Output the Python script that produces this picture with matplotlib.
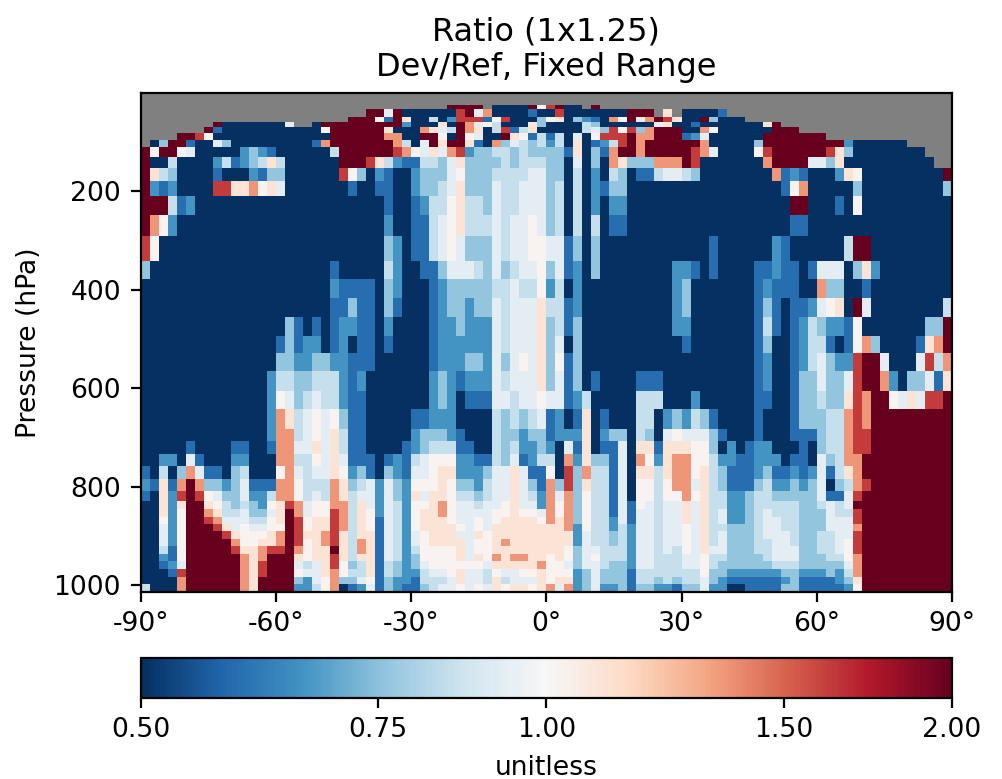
import numpy as np
import matplotlib
matplotlib.use('Agg')
import matplotlib.pyplot as plt
from matplotlib.colors import LogNorm

plt.rcParams['font.size'] = 9.6

# ratio classes, one per character in the rows below
ratio_classes = {'.': np.nan, '0': 0.50, '1': 0.59, '2': 0.66, '3': 0.76, '4': 0.85, '5': 0.93,
                 '6': 1.02, '7': 1.10, '8': 1.36, '9': 1.62, 'X': 2.00}

# layer edges in hPa, top of the plot first
pressure_edges = [24, 34, 50, 60, 70, 81, 95, 111, 131, 153, 180, 210, 249, 291, 342, 378, 417, 455,
                  494, 528, 566, 605, 643, 682, 708, 734, 759, 785, 809, 830, 846, 861, 876, 891,
                  906, 921, 937, 952, 967, 983, 998, 1013]
lat_edges = list(range(-90, 91, 2))

# 90S to 30S, 2 degree columns, one string per layer
south_rows = [
    "..... ..... ..... ..... ..... .....",
    "..... ..... ..... ..... ..... XX5X0",
    "..... ..... ..... ..... ...XX X61X7",
    "..... ...X0 00000 05..0 XXXXX XXXX2",
    "..... ..X10 00000 00000 6XXXX XX700",
    "....X X9600 00000 00000 0XXXX XX880",
    ".03XX 10053 00000 00001 8XXXX XXX84",
    "X6XX6 50000 02321 00000 04XXX XXX98",
    "X0040 00024 12347 40000 00XXX 97421",
    "X7430 00010 00213 30000 00963 02100",
    "X2120 00099 77867 50000 00010 01100",
    "XXX41 20000 00000 00000 00000 00100",
    "X8620 00000 00000 00000 00000 00200",
    "96000 00000 00000 00000 00000 00320",
    "30000 00000 00000 00000 01000 00420",
    "00000 00000 00000 00000 02111 10320",
    "00000 00000 00000 00000 01131 10310",
    "00000 00000 00000 03101 01221 10200",
    "00000 00000 00000 13122 01201 10100",
    "00000 00000 00000 33223 32211 10000",
    "00000 00000 00002 44334 44212 00000",
    "00000 00000 00002 65345 44211 00000",
    "00000 00000 00002 87456 56311 00000",
    "00000 00000 00002 88456 57411 00000",
    "00000 10000 11001 88557 57411 00001",
    "00220 51000 22000 88446 57511 10121",
    "10403 85110 34000 68545 57623 10321",
    "21718 X8332 35111 88644 48734 52532",
    "10729 X9653 35224 88645 48745 52532",
    "00727 XX764 34326 79856 68847 52542",
    "00726 XX874 45335 7X856 69847 62542",
    "00626 XX985 55446 7X967 79847 61542",
    "00526 XXX97 56556 6X967 79847 61542",
    "00526 XXXX9 76667 8X977 89747 71542",
    "00526 XXXXX 86677 8X967 89748 71542",
    "00416 XXXXX 97789 9X867 7X748 71542",
    "00216 XXXXX X878X XX767 79747 71542",
    "00125 XXXXX X879X XX545 79634 71432",
    "00019 XXXXX X879X XX655 78644 71432",
    "00008 XXXXX X87XX XX325 68335 61322",
    "40008 XXXXX X87XX XX224 68012 51321",
]

# 30S to 30N
tropic_rows = [
    "....X XXX.0 000X6 9X00. X.... .....",
    "00000 9X580 00010 09000 0000X XX.7.",
    "00402 99916 90003 67032 1086X 58X97",
    "00070 X8564 00073 00004 30000 00570",
    "08754 X8704 91470 00004 53969 38XXX",
    "0XX60 X6500 X7614 14050 6999X 88XXX",
    "05X7X X7108 35434 24070 1249X 8XXXX",
    "65758 92334 43433 33170 318XX 8XXXX",
    "14435 73333 43444 33050 30873 33888",
    "23335 63334 44455 33040 20430 11455",
    "23345 73335 44555 34040 21330 00000",
    "12446 74435 44555 34040 20220 00000",
    "11456 74445 45565 34040 40110 00000",
    "11456 53335 45566 55130 30000 00000",
    "01135 55435 34556 35120 30000 00002",
    "00123 33334 45446 24020 00000 00002",
    "00123 32335 45557 44120 00000 00002",
    "00122 32225 45557 34130 00000 00002",
    "00122 22225 45557 35030 00000 00000",
    "00122 23325 35657 36130 00000 00000",
    "00232 12225 45557 35130 10000 11100",
    "00232 01115 54556 55124 00000 44400",
    "11222 00004 34345 12017 01000 44023",
    "23332 10004 33233 12227 02330 43056",
    "23444 11004 34223 20517 01150 77177",
    "45666 22114 35124 40827 33150 86278",
    "55677 22235 57511 60938 44150 77478",
    "66676 33245 57531 83937 44150 66468",
    "75776 44345 57542 85836 44150 66466",
    "66786 55455 67552 86836 44151 65455",
    "67786 55556 67665 86836 44151 55455",
    "67776 55656 77776 87836 44251 55455",
    "67777 65657 77777 77826 44242 55455",
    "56777 55767 77777 77725 44342 55455",
    "56777 75667 87777 77725 44342 55455",
    "46666 75667 77777 77635 54442 55454",
    "36666 75768 78877 67635 64442 55444",
    "35666 66657 77778 66535 54332 55444",
    "24556 75546 55667 66623 53331 44444",
    "14445 75547 45557 67723 53331 44343",
    "13455 65657 67767 85823 52231 33221",
]

# 30N to 90N
north_rows = [
    "..... ..... ..... ..... ..... .....",
    "00001 ..... ..... ..... ..... .....",
    "00X30 00... ..... ..... ..... .....",
    "01000 00007 X.... ..... ..... .....",
    "00860 00000 XXX.. ..... ..... .....",
    "12500 0000X XXXXX X.... ..... .....",
    "XX800 0003X XXXXX XXX20 00000 .....",
    "X9850 00069 XXXXX X9730 00000 00...",
    "X9000 00008 XXXX5 53700 00000 000..",
    "43000 00000 81210 00276 00000 0000X",
    "00000 00000 01680 00003 00000 00003",
    "00000 00000 00XX0 00106 00000 00000",
    "00000 00000 00110 00000 00000 00000",
    "00010 00000 21000 0004X X0000 00000",
    "21010 00011 21101 55503 72000 00000",
    "30000 00012 11100 83300 10000 00000",
    "30000 00013 10112 5670X 50000 00004",
    "20000 00014 10124 32216 00000 0033X",
    "10000 00013 00124 41016 83000 0178X",
    "00000 00012 00124 53229 XX500 05948",
    "00000 00012 00133 53359 XX820 33517",
    "02000 00011 00133 43379 8XX65 7599X",
    "24310 00010 00133 34489 8XXXX XXXXX",
    "55531 00010 00111 34489 9XXXX XXXXX",
    "76630 20122 00010 34489 9XXXX XXXXX",
    "86642 21122 20110 53488 XXXXX XXXXX",
    "86743 11123 11212 51478 XXXXX XXXXX",
    "85743 11134 22323 50348 9XXXX XXXXX",
    "86744 22344 33333 51159 XXXXX XXXXX",
    "75744 22344 44433 4545X XXXXX XXXXX",
    "75745 22345 44433 35449 XXXXX XXXXX",
    "75745 22345 54433 35559 XXXXX XXXXX",
    "65744 33345 54433 35558 XXXXX XXXXX",
    "65745 33345 55433 44559 XXXXX XXXXX",
    "65745 33344 55433 44569 XXXXX XXXXX",
    "65755 33344 55533 44569 XXXXX XXXXX",
    "55644 33334 55533 34468 XXXXX XXXXX",
    "55643 33333 44433 33358 XXXXX XXXXX",
    "44633 22222 23322 23248 XXXXX XXXXX",
    "44532 11111 12311 11237 XXXXX XXXXX",
    "33522 00111 13311 11126 XXXXX XXXXX",
]

lat_ticks = [-90, -60, -30, 0, 30, 60, 90]
lat_labels = ['-90°', '-60°', '-30°', '0°', '30°', '60°', '90°']
pressure_ticks = [200, 400, 600, 800, 1000]
cbar_ticks = [0.5, 0.75, 1.0, 1.5, 2.0]
cbar_labels = ['0.50', '0.75', '1.00', '1.50', '2.00']

# Stitch the three blocks into one grid
ratio = []
for s, t, n in zip(south_rows, tropic_rows, north_rows):
    row = (s + t + n).replace(' ', '')
    ratio.append([ratio_classes[c] for c in row])
ratio = np.ma.masked_invalid(np.array(ratio))

width, height = 1003, 779
fig = plt.figure(figsize=(width / 200, height / 200), dpi=200)
ax = fig.add_axes([140.5 / width, 1 - 591.5 / height, 811.5 / width, 498.5 / height])
ax.set_facecolor('#808080')

norm = LogNorm(vmin=0.5, vmax=2.0)
mesh = ax.pcolormesh(lat_edges, pressure_edges, ratio, cmap='RdBu_r', norm=norm)

ax.set_xlim(-90, 90)
ax.set_ylim(1013, 0.5)
ax.set_xticks(lat_ticks)
ax.set_xticklabels(lat_labels)
ax.set_yticks(pressure_ticks)
ax.set_ylabel('Pressure (hPa)')
ax.set_title('Ratio (1x1.25)\nDev/Ref, Fixed Range', fontsize=11.5)

cax = fig.add_axes([140.5 / width, 1 - 698 / height, 811.5 / width, 40 / height])
cbar = fig.colorbar(mesh, cax=cax, orientation='horizontal')
cbar.set_ticks(cbar_ticks)
cbar.set_ticklabels(cbar_labels)
cbar.minorticks_off()
cbar.set_label('unitless')

fig.savefig('out.png', dpi=200)
